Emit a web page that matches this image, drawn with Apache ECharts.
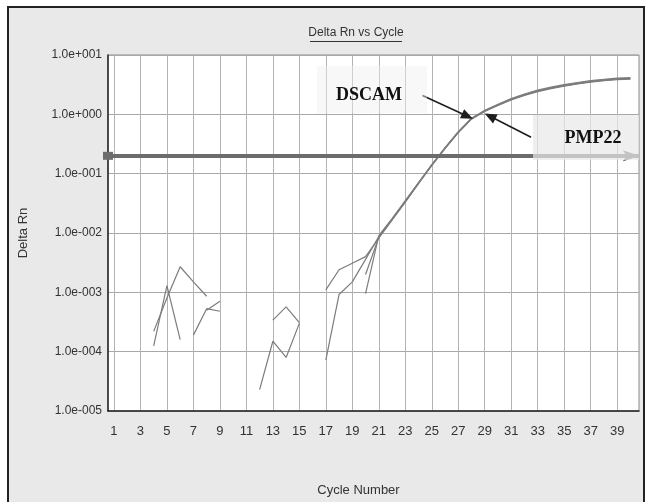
<!DOCTYPE html>
<html>
<head>
<meta charset="utf-8">
<script src="https://cdn.jsdelivr.net/npm/echarts@6/dist/echarts.min.js"></script>
<style>
  html, body { margin: 0; padding: 0; background: #fff; }
  #chart { width: 648px; height: 502px; }
</style>
</head>
<body>
<div id="chart"></div>
<script>
// cycle numbers 1..40
const cycles = Array.from({ length: 40 }, (_, i) => i + 1)
const xTicks = [1, 3, 5, 7, 9, 11, 13, 15, 17, 19, 21, 23, 25, 27, 29, 31, 33, 35, 37, 39]

// Delta Rn per cycle, null = not drawn (below zero on the log scale)
const run1 = [null, null, null, 1.25e-4, 1.3e-3, 1.6e-4, null, null, null, null,
  null, 2.3e-5, 1.5e-4, 8e-5, 3.0e-4, null, 7.2e-5, 9.2e-4, 1.5e-3, 3.6e-3,
  8.7e-3, 0.017, 0.034, 0.070, 0.14, 0.27, 0.50, 0.85, 1.15, 1.45,
  1.80, 2.15, 2.50, 2.80, 3.07, 3.35, 3.60, 3.80, 3.97, 4.05]
const run2 = [null, null, null, 2.2e-4, 8e-4, 2.7e-3, 1.5e-3, 8.6e-4, null, null,
  null, null, 3.4e-4, 5.7e-4, 3.1e-4, null, 1.1e-3, 2.4e-3, 3.1e-3, 4.0e-3,
  8.2e-3, 0.0165, 0.033, 0.068, 0.137, 0.265, 0.49, 0.83, 1.12, 1.41,
  1.75, 2.08, 2.42, 2.72, 2.98, 3.25, 3.48, 3.68, 3.86, 3.93]
const run3 = [null, null, null, null, null, null, 1.9e-4, 5.3e-4, 4.8e-4, null,
  null, null, null, null, null, null, null, null, null, 9.5e-4,
  9.0e-3, 0.0175, 0.035, 0.071, 0.142, 0.275, 0.51, 0.86, 1.17, 1.48,
  1.84, 2.20, 2.57, 2.88, 3.16, 3.44, 3.70, 3.90, 4.08, 4.15]
const run4 = [null, null, null, null, null, null, null, 5.0e-4, 7.1e-4, null,
  null, null, null, null, null, null, null, null, null, 2.0e-3,
  8.5e-3, 0.0168, 0.0335, 0.069, 0.139, 0.268, 0.495, 0.84, 1.14, 1.44,
  1.78, 2.12, 2.46, 2.76, 3.03, 3.30, 3.54, 3.74, 3.92, 4.00]

const threshold = 0.2
// arrow annotations in data units [cycle, delta Rn]
const dscamArrow = [[24.3, 2.08], [27.7, 0.93]]
const pmpArrow = [[32.5, 0.41], [29.4, 0.93]]

const font = "'Liberation Sans', Arial, sans-serif"
const serif = "'Liberation Serif', 'DejaVu Serif', serif"

function sci(v) {
  const k = Math.round(Math.log10(v))
  return "1.0e" + (k < 0 ? "-" : "+") + String(Math.abs(k)).padStart(3, "0")
}

const chart = echarts.init(document.getElementById("chart"))

const runs = [run1, run2, run3, run4]
const series = runs.map((r) => ({
  type: "line",
  data: r.map((v, j) => [cycles[j], v == null ? "-" : v]),
  showSymbol: false,
  symbol: "none",
  lineStyle: { color: "#7c7c7c", width: 1.2 },
  z: 3,
}))

// threshold and the two label arrows sit on the first series
series[0].markLine = {
  silent: true,
  animation: false,
  label: { show: false },
  data: [
    // thick bar
    {
      yAxis: threshold,
      symbol: "none",
      lineStyle: { color: "#6c6c6c", width: 4, type: "solid" },
    },
    // thin copy carrying the two open arrow heads
    {
      yAxis: threshold,
      symbol: ["arrow", "arrow"],
      symbolSize: [8, 10],
      lineStyle: { color: "#6c6c6c", width: 1, type: "solid" },
    },
    [
      { coord: dscamArrow[0], symbol: "none" },
      { coord: dscamArrow[1], symbol: "triangle", symbolSize: [10, 12] },
    ],
    [
      { coord: pmpArrow[0], symbol: "none" },
      { coord: pmpArrow[1], symbol: "triangle", symbolSize: [10, 12] },
    ],
  ],
  lineStyle: { color: "#1e1e1e", width: 1.6, type: "solid" },
}

const option = {
  animation: false,
  backgroundColor: "#fff",
  grid: {
    left: 108, top: 55, right: 9, bottom: 90,
    show: true, backgroundColor: "#fff", borderColor: "#8a8a8a", borderWidth: 1,
  },
  xAxis: {
    type: "value",
    min: 0.55,
    max: 40.65,
    name: "Cycle Number",
    nameLocation: "middle",
    nameGap: 73,
    nameTextStyle: { fontFamily: font, fontSize: 13, color: "#333", padding: [0, 30, 0, 0] },
    axisLine: { lineStyle: { color: "#222", width: 1.5 } },
    axisTick: { show: false, customValues: xTicks },
    axisLabel: { customValues: xTicks, fontFamily: font, fontSize: 13, color: "#333", margin: 14 },
    splitLine: { show: true, lineStyle: { color: "#b4b4b4", width: 1 } },
  },
  yAxis: {
    type: "log",
    logBase: 10,
    min: 1e-5,
    max: 10,
    name: "Delta Rn",
    nameLocation: "middle",
    nameGap: 78,
    nameRotate: 90,
    nameTextStyle: { fontFamily: font, fontSize: 13, color: "#333" },
    axisLine: { show: true, lineStyle: { color: "#222", width: 1.5 } },
    axisTick: { show: false },
    axisLabel: { fontFamily: font, fontSize: 12, color: "#333", margin: 6, formatter: sci },
    splitLine: { show: true, lineStyle: { color: "#a8a8a8", width: 1 } },
  },
  graphic: [
    {
      type: "rect", z: -10,
      shape: { x: 8, y: 7, width: 636, height: 510 },
      style: { fill: "#e9e9e9", stroke: "#222", lineWidth: 2 },
    },
    {
      type: "text", z: 10, x: 356, y: 33,
      style: { text: "Delta Rn vs Cycle", font: "12px " + font, fill: "#333", align: "center", verticalAlign: "middle" },
    },
    {
      type: "line", z: 10,
      shape: { x1: 310, y1: 41.5, x2: 402, y2: 41.5 },
      style: { stroke: "#333", lineWidth: 1 },
    },
    {
      type: "rect", z: 100,
      shape: { x: 317, y: 66, width: 110, height: 47 },
      style: { fill: "rgba(240,240,240,0.45)" },
    },
    {
      type: "rect", z: 100,
      shape: { x: 533, y: 115, width: 106, height: 45 },
      style: { fill: "rgba(232,232,232,0.7)" },
    },
    {
      type: "text", z: 101, x: 369, y: 95,
      style: { text: "DSCAM", font: "bold 18px " + serif, fill: "#111", align: "center", verticalAlign: "middle" },
    },
    {
      type: "text", z: 101, x: 593, y: 138,
      style: { text: "PMP22", font: "bold 18px " + serif, fill: "#111", align: "center", verticalAlign: "middle" },
    },
  ],
  series,
}

chart.setOption(option)
</script>
</body>
</html>
